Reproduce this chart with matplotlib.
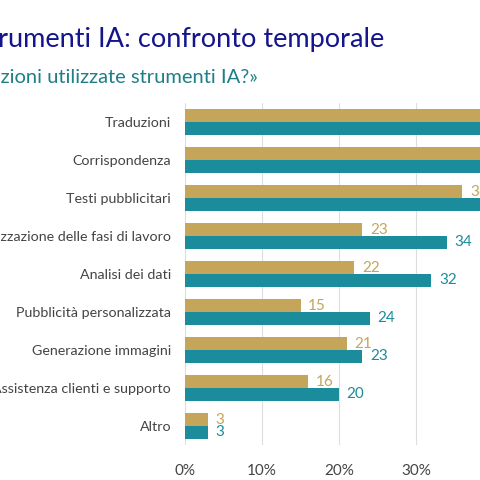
import matplotlib.pyplot as plt
import numpy as np

categories = ["Traduzioni", "Corrispondenza", "Testi pubblicitari",
              "Organizzazione delle fasi di lavoro", "Analisi dei dati",
              "Pubblicità personalizzata", "Generazione immagini",
              "Assistenza clienti e supporto", "Altro"]
# values for the first three rows run past the visible area, estimated
old_values = [50, 46, 36, 23, 22, 15, 21, 16, 3]
new_values = [58, 52, 44, 34, 32, 24, 23, 20, 3]
ticks = [0, 10, 20, 30]

GOLD = "#C4A55A"
TEAL = "#1A8C9C"

plt.rcParams["font.family"] = ["Lato", "DejaVu Sans"]

fig = plt.figure(figsize=(4.8, 4.8), dpi=100)
ax = fig.add_axes([185 / 480, 1 - 445 / 480, 60 * 7.7 / 480, 342 / 480])

y = np.arange(len(categories))
h = 0.33
ax.barh(y - h / 2, old_values, height=h, color=GOLD, zorder=3)
ax.barh(y + h / 2, new_values, height=h, color=TEAL, zorder=3)
for i in range(len(categories)):
    ax.text(old_values[i] + 1, y[i] - h / 2, str(old_values[i]), color=GOLD,
            va="center", fontsize=11, zorder=4)
    ax.text(new_values[i] + 1, y[i] + h / 2, str(new_values[i]), color=TEAL,
            va="center", fontsize=11, zorder=4)

ax.set_ylim(len(categories) - 0.5, -0.5)
ax.set_xlim(0, 60)
ax.set_yticks(y)
ax.set_yticklabels(categories, fontsize=10.3, color="#444444")
ax.set_xticks(ticks)
ax.set_xticklabels([f"{t}%" for t in ticks], fontsize=11, color="#444444")
ax.tick_params(length=0, pad=14, axis="x")
ax.tick_params(length=0, pad=10, axis="y")
ax.grid(axis="x", color="#dddddd", linewidth=0.8, zorder=0)
for s in ax.spines.values():
    s.set_visible(False)

fig.text(384 / 480, 1 - 40 / 480, "Utilizzo di strumenti IA: confronto temporale",
         ha="right", va="center", fontsize=19.5, color="#14148C")
fig.text(258 / 480, 1 - 77 / 480, "«In quali funzioni utilizzate strumenti IA?»",
         ha="right", va="center", fontsize=14.5, color="#1E7F86")

fig.savefig("out.png", dpi=100)
